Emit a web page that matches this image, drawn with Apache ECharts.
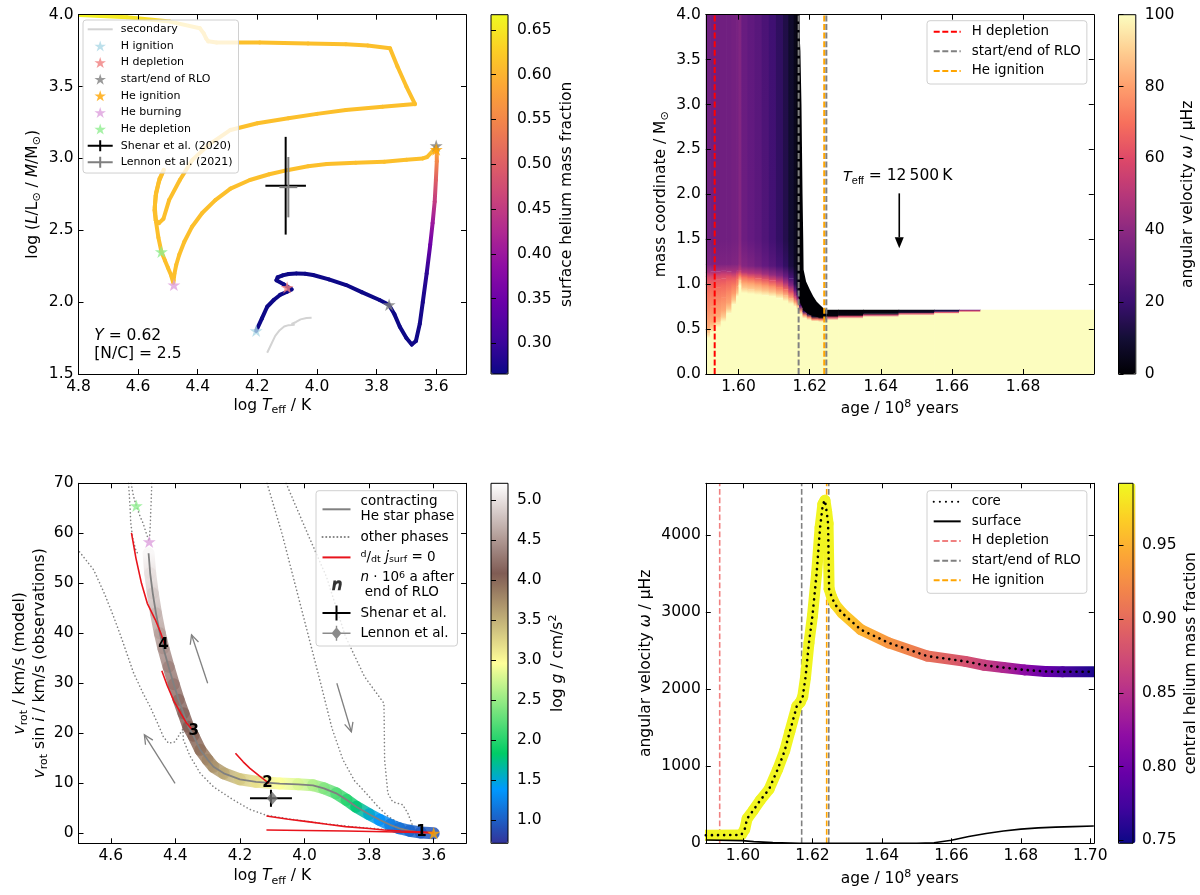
<!DOCTYPE html>
<html>
<head>
<meta charset="utf-8">
<title>primary evolution, rotation and Teff</title>
<script src="https://cdn.jsdelivr.net/npm/echarts@6/dist/echarts.min.js"></script>
<style>
html, body { margin: 0; padding: 0; background: #fff; }
#chart { width: 1200px; height: 895px; }
</style>
</head>
<body>
<div id="chart"></div>
<script>
var F = 'DejaVu Sans';

// ---------- panel 1: HRD of the primary ----------
var hrdLogTeff = [4.204,4.185,4.167,4.145,4.124,4.100,4.085,4.112,4.136,4.132,
  4.115,4.095,4.069,4.040,4.013,3.960,3.902,3.850,3.790,3.759,
  3.740,3.722,3.700,3.682,3.668,3.655,3.645,3.632,3.620,3.612,
  3.605,3.601,3.598,3.598,3.600,3.612,3.630,3.645,3.700,3.774,
  3.870,3.967,4.030,4.096,4.160,4.225,4.290,4.341,4.385,4.419,
  4.445,4.462,4.472,4.478,4.481,4.482,4.490,4.500,4.510,4.522,
  4.532,4.540,4.544,4.540,4.528,4.514,4.530,4.541,4.545,4.541,
  4.530,4.515,4.496,4.460,4.418,4.360,4.290,4.200,4.096,4.000,
  3.903,3.780,3.671,3.700,3.730,3.755,3.830,3.903,4.030,4.192,
  4.337,4.365,4.372,4.380,4.393,4.493,4.638,4.795];
var hrdLogLM = [1.800,1.885,1.968,2.015,2.050,2.072,2.089,2.125,2.152,2.172,
  2.186,2.196,2.200,2.198,2.189,2.158,2.119,2.070,2.015,1.982,
  1.915,1.829,1.750,1.705,1.730,1.850,2.000,2.200,2.400,2.550,
  2.700,2.850,2.980,3.050,3.080,3.050,3.010,3.000,2.990,2.977,
  2.970,2.961,2.945,2.920,2.890,2.850,2.790,2.710,2.620,2.525,
  2.420,2.330,2.260,2.200,2.150,2.135,2.190,2.240,2.290,2.351,
  2.450,2.560,2.660,2.760,2.860,2.920,2.840,2.740,2.640,2.570,
  2.550,2.580,2.710,2.850,2.990,3.100,3.198,3.245,3.279,3.310,
  3.337,3.360,3.378,3.500,3.640,3.766,3.785,3.794,3.800,3.806,
  3.806,3.815,3.835,3.870,3.906,3.952,3.982,3.998];
var hrdYsurf = [0.266,0.266,0.266,0.266,0.266,0.266,0.266,0.266,0.266,0.266,
  0.266,0.266,0.266,0.266,0.266,0.266,0.266,0.266,0.266,0.266,
  0.266,0.266,0.266,0.267,0.268,0.270,0.274,0.290,0.350,0.400,
  0.450,0.500,0.550,0.590,0.610,0.612,0.612,0.612,0.612,0.612,
  0.612,0.612,0.612,0.612,0.612,0.612,0.612,0.612,0.612,0.612,
  0.612,0.612,0.612,0.612,0.612,0.612,0.612,0.612,0.612,0.612,
  0.612,0.612,0.612,0.612,0.612,0.612,0.612,0.612,0.612,0.612,
  0.612,0.612,0.612,0.612,0.612,0.612,0.612,0.612,0.612,0.612,
  0.612,0.612,0.612,0.612,0.612,0.612,0.612,0.612,0.612,0.612,
  0.613,0.614,0.615,0.616,0.618,0.630,0.650,0.662];
var secLogTeff = [4.167,4.155,4.140,4.125,4.110,4.095,4.075,4.085,4.070,4.055,4.035,4.018];
var secLogLM = [1.648,1.700,1.765,1.805,1.830,1.840,1.842,1.848,1.862,1.880,1.890,1.892];
var p1HIgn = [[4.204, 1.801]];
var p1HDep = [[4.100, 2.103]];
var p1RLO = [[3.758, 1.982], [3.600, 3.088]];
var p1HeIgn = [[3.600, 3.062]];
var p1HeBurn = [[4.480, 2.120]];
var p1HeDep = [[4.522, 2.351]];
var p1Shenar = [[4.105, 2.81, 0.068, 0.34]];
var p1Lennon = [[4.096, 2.80, 0.03, 0.21]];
var p1Note = ['{i|Y} = 0.62\n[N/C] = 2.5'];
var p1NotePos = [[4.747, 1.70]];

// ---------- panel 2: angular velocity inside the star ----------
var heatAgeEdges = [1.5908,1.5920,1.5935,1.5950,1.5965,1.5980,1.5993,1.6000,1.6008,1.6025,1.6045,1.6065,
  1.6085,1.6105,1.6125,1.6140,1.6155,1.6163,1.6170,1.6180,1.6192,1.6205,
  1.6225,1.6247,1.6280,1.6350,1.6450,1.6550,1.6620,1.6680,1.6999];
// per age column: [mass coordinate, omega] from centre to surface
var heatProfiles = [
  [[0,100],[0.40,100],[0.45,90],[0.52,82],[0.70,76],[0.90,70],[1.02,64],[1.08,58],[1.13,46],[1.22,36],[1.5,33],[4.0,33]],
  [[0,100],[0.46,100],[0.51,90],[0.58,82],[0.75,76],[0.93,70],[1.03,64],[1.09,57],[1.14,46],[1.22,36],[1.5,33],[4.0,33]],
  [[0,100],[0.52,100],[0.57,90],[0.64,82],[0.80,76],[0.96,69],[1.05,63],[1.10,56],[1.14,46],[1.22,36],[1.5,33],[4.0,33]],
  [[0,100],[0.58,100],[0.63,90],[0.70,82],[0.85,75],[0.99,68],[1.06,62],[1.11,55],[1.15,45],[1.22,36],[1.5,33],[4.0,33]],
  [[0,100],[0.67,100],[0.72,90],[0.79,81],[0.92,74],[1.03,67],[1.09,60],[1.14,47],[1.22,36],[1.5,33],[4.0,33]],
  [[0,100],[0.77,100],[0.82,89],[0.89,80],[0.99,72],[1.07,63],[1.13,48],[1.22,37],[1.5,34],[4.0,34]],
  [[0,100],[0.86,100],[0.90,89],[0.97,79],[1.05,70],[1.11,59],[1.15,46],[1.22,37],[1.5,34],[4.0,35]],
  [[0,100],[0.98,100],[1.04,88],[1.10,70],[1.15,52],[1.22,42],[1.5,38],[4.0,37]],
  [[0,100],[0.90,100],[0.95,90],[1.02,80],[1.08,68],[1.13,50],[1.20,38],[1.5,32],[4.0,31]],
  [[0,100],[0.89,100],[0.94,90],[1.01,80],[1.07,67],[1.12,50],[1.20,36],[1.5,30],[4.0,29]],
  [[0,100],[0.88,100],[0.93,90],[1.00,79],[1.06,65],[1.12,48],[1.20,33],[1.5,28],[4.0,27]],
  [[0,100],[0.87,100],[0.92,89],[0.99,77],[1.05,63],[1.11,45],[1.20,30],[1.5,25],[4.0,24]],
  [[0,100],[0.86,100],[0.91,88],[0.98,75],[1.04,60],[1.10,42],[1.20,27],[1.5,22],[4.0,21]],
  [[0,100],[0.84,100],[0.89,87],[0.96,72],[1.03,55],[1.09,38],[1.20,23],[1.5,18],[4.0,17]],
  [[0,100],[0.81,100],[0.87,85],[0.94,68],[1.01,48],[1.08,32],[1.20,18],[1.5,14],[4.0,13]],
  [[0,100],[0.78,100],[0.84,82],[0.91,62],[0.98,40],[1.06,24],[1.20,12],[1.5,9],[4.0,8]],
  [[0,100],[0.75,100],[0.80,80],[0.86,55],[0.93,30],[1.00,14],[1.20,6],[4.0,4]],
  [[0,100],[0.72,100],[0.77,78],[0.83,45],[0.88,18],[0.95,6],[1.20,2],[4.0,1]],
  [[0,100],[0.66,100],[0.70,80],[0.75,30],[0.80,2],[0.86,0]],
  [[0,100],[0.62,100],[0.655,75],[0.69,20],[0.72,0]],
  [[0,100],[0.60,100],[0.63,75],[0.66,15],[0.69,0]],
  [[0,100],[0.585,100],[0.61,70],[0.635,10],[0.66,0]],
  [[0,100],[0.58,100],[0.605,70],[0.63,5],[0.64,0]],
  [[0,100],[0.60,100],[0.625,60],[0.645,2],[0.712,0]],
  [[0,100],[0.615,100],[0.638,60],[0.655,3],[0.712,0]],
  [[0,100],[0.635,100],[0.655,55],[0.67,4],[0.712,0]],
  [[0,100],[0.65,100],[0.67,60],[0.685,8],[0.712,3]],
  [[0,100],[0.67,100],[0.685,60],[0.695,15],[0.712,10]],
  [[0,100],[0.685,100],[0.70,60],[0.712,30]],
  [[0,100],[0.712,100]]
];
// black (non-rotating) envelope shed during RLO
var wedgeTopAge = [1.6169,1.6174,1.6177,1.6180,1.6182,1.6183,1.6190,1.6201,1.6210,1.6220,1.6230,1.6239,1.6247];
var wedgeTopMass = [4.0,3.6,3.0,2.0,1.5,1.16,1.03,0.935,0.865,0.805,0.765,0.731,0.712];
var wedgeBotAge = [1.6247,1.6239,1.6224,1.6210,1.6201,1.6190,1.6182,1.6176,1.6169];
var wedgeBotMass = [0.632,0.631,0.631,0.645,0.657,0.685,0.712,0.77,0.85];
var hDepAge = 1.5933, rloStartAge = 1.6169, heIgnAge = 1.6241, rloEndAge = 1.6247;
var p2Arrow = [[1.6452, 2.011, 1.6452, 1.399]];
var p2Note = ['{i|T}{sub|eff} = 12\u2009500\u2009K'];
var p2NotePos = [[1.6292, 2.20]];

// ---------- panel 3: surface rotation vs Teff ----------
var contractTeff = [4.483,4.478,4.470,4.460,4.448,4.437,4.421,4.405,4.390,4.375,4.360,4.344,4.323,4.300,4.282,4.250,
  4.200,4.150,4.077,4.020,3.974,3.940,3.902,3.870,3.840,3.800,3.768,3.735,3.706,3.675,3.640,3.600];
var contractVrot = [56.0,52.0,48.0,44.0,40.0,37.0,33.3,29.8,26.7,24.0,21.3,19.5,16.7,14.7,13.3,12.0,
  10.8,10.3,9.95,9.8,9.6,9.0,8.0,6.7,5.3,3.8,2.7,1.7,1.0,0.5,0.15,0.0];
var contractLogg = [5.15,5.0,4.85,4.7,4.57,4.47,4.36,4.27,4.2,4.15,4.1,4.05,3.95,3.82,3.72,3.58,
  3.36,3.18,2.95,2.8,2.62,2.42,2.2,2.02,1.8,1.55,1.36,1.22,1.12,1.05,0.98,0.93];
var otherA = [[4.697,56.3],[4.653,52.7],[4.620,48],[4.591,43.3],[4.565,38.7],[4.529,32.0],[4.500,28],[4.478,25.3],
  [4.455,22],[4.437,19.3],[4.421,18.0],[4.401,18.3],[4.385,20.0],[4.377,20.8],[4.375,18.7],[4.355,15.5],
  [4.323,12],[4.282,9.3],[4.221,6.7],[4.170,4.8],[4.118,3.6],[4.050,2.9],[3.950,2.0],[3.850,1.3],[3.750,0.75],[3.650,0.3],[3.600,0.1]];
var otherB = [[4.545,70],[4.541,66],[4.538,62],[4.532,59],[4.522,56.5],[4.514,55.7]];
var otherC = [[4.537,70],[4.530,67.5],[4.521,65.5],[4.510,63.5],[4.500,62],[4.490,60],[4.481,58.3]];
var otherD = [[4.473,70],[4.476,64.7],[4.478,61.3],[4.481,58.3]];
var otherE = [[4.116,70],[4.070,60],[4.030,50],[3.990,40],[3.950,30],[3.915,21],[3.881,14.7],[3.845,10.5],
  [3.809,8],[3.775,5.5],[3.740,3.3],[3.700,1.8],[3.660,0.7]];
var otherF = [[4.057,70],[3.991,60],[3.932,51.3],[3.873,39.3],[3.814,31.3],[3.754,26],[3.752,14.7],[3.742,8],
  [3.727,6.3],[3.696,5.7],[3.680,4],[3.665,1.5],[3.650,0.3]];
var jconst1 = [[4.536,60.1],[4.522,55],[4.505,50],[4.487,46],[4.462,42.7],[4.445,40],[4.433,37.7]];
var jconst2 = [[4.442,32.5],[4.425,29.5],[4.405,26.5],[4.383,24.0],[4.365,22.0],[4.349,20.8]];
var jconst3 = [[4.214,16],[4.190,14.3],[4.169,13],[4.140,11.5],[4.110,10]];
var jconst4 = [[4.118,3.47],[4.050,2.8],[3.991,2.33],[3.930,1.8],[3.873,1.33],[3.800,0.95],[3.754,0.67],[3.700,0.45],[3.650,0.3],[3.600,0.15]];
var jconst5 = [[4.118,0.67],[4.000,0.55],[3.873,0.45],[3.750,0.3],[3.650,0.15],[3.600,0.05]];
var p3Arrows = [[4.300,30,4.350,39.7],[4.401,10,4.496,19.7],[3.900,30,3.855,20.3]];
var p3Myr = ['4','3','2','1'];
var p3MyrPos = [[4.437,37.7],[4.343,20.5],[4.115,10.1],[3.638,0.3]];
var p3HeDep = [[4.521,65.5]];
var p3HeBurn = [[4.481,58.3]];
var p3HeIgn = [[3.600,0.0]];
var p3Shenar = [[4.104,7.0,0.065,1.7]];
var p3Lennon = [[4.100,7.0]];

// ---------- panel 4: core and surface angular velocity ----------
var coreAge = [1.5893,1.5995,1.6005,1.6012,1.6030,1.6050,1.6075,1.6100,1.6120,1.6135,1.6155,1.6165,1.6172,1.6180,1.6190,
  1.6200,1.6212,1.6222,1.6230,1.6236,1.6241,1.6245,1.6248,1.6255,1.6265,1.6285,1.6340,1.6420,1.6530,1.6640,
  1.6695,1.6750,1.6810,1.6870,1.6920,1.7010];
var coreOmega = [105,108,180,320,430,560,700,960,1200,1450,1780,1830,1900,2150,2600,2950,3500,4100,4400,4450,
  4300,4150,3300,3200,3100,2990,2770,2600,2430,2360,2310,2280,2250,2230,2225,2225];
var coreYc = [0.99,0.99,0.99,0.99,0.99,0.99,0.99,0.99,0.99,0.99,0.99,0.99,0.99,0.99,0.99,0.99,0.99,0.99,0.99,0.99,
  0.99,0.99,0.988,0.985,0.98,0.968,0.95,0.93,0.905,0.88,0.865,0.845,0.82,0.797,0.78,0.755];
var surfAge = [1.5893,1.5998,1.6031,1.6086,1.6163,1.6500,1.6550,1.6600,1.6650,1.6700,1.6750,1.6800,1.6850,1.6900,1.6950,1.7010];
var surfOmega = [43,35,22,9,0,0,8,40,88,128,160,184,200,210,217,224];

// axis ranges and ticks
var p1X = [3.5, 4.8], p1Y = [1.5, 4.0];
var p2X = [1.5908, 1.6999], p2Y = [0, 4.0];
var p3X = [3.5, 4.7], p3Y = [-2, 70];
var p4X = [1.5893, 1.701], p4Y = [0, 4671];
var p1XTicks = [4.8,4.6,4.4,4.2,4.0,3.8,3.6], p1YTicks = [1.5,2.0,2.5,3.0,3.5,4.0];
var p2XTicks = [1.60,1.62,1.64,1.66,1.68], p2YTicks = [0,0.5,1.0,1.5,2.0,2.5,3.0,3.5,4.0];
var p3XTicks = [4.6,4.4,4.2,4.0,3.8,3.6], p3YTicks = [0,10,20,30,40,50,60,70];
var p4XTicks = [1.60,1.62,1.64,1.66,1.68,1.70], p4YTicks = [0,1000,2000,3000,4000];
var cb1 = [0.2657, 0.667], cb1Ticks = [0.30,0.35,0.40,0.45,0.50,0.55,0.60,0.65];
var cb2 = [0, 100], cb2Ticks = [0,20,40,60,80,100];
var cb3 = [0.71, 5.21], cb3Ticks = [1.0,1.5,2.0,2.5,3.0,3.5,4.0,4.5,5.0];
var cb4 = [0.748, 0.992], cb4Ticks = [0.75,0.80,0.85,0.90,0.95];

var PLASMA = ['#0d0887','#41049d','#6a00a8','#8f0da4','#b12a90','#cc4778','#e16462','#f2844b','#fca636','#fcce25','#f0f921'];
var MAGMA = ['#000004','#140e36','#3b0f70','#641a80','#8c2981','#b73779','#de4968','#f7705c','#fe9f6d','#fecf92','#fcfdbf'];
var TERRAIN = ['#333399','#2255bb','#1177dd','#0099ff','#00b3b3','#00cc66','#33d670','#66e07a','#99eb85','#ccf58f','#ffff99',
  '#e6de8b','#ccbe7d','#b39d70','#997c62','#805c54','#997c76','#b39d98','#ccbebb','#e6dedd','#ffffff'];

// ---------- helpers ----------
function zip(xs, ys) { return xs.map(function (x, i) { return [x, ys[i]]; }); }
function segItems(xs, ys, cs) {
  var out = [];
  for (var i = 0; i < xs.length; i++) {
    var last = i === xs.length - 1;
    out.push([xs[i], ys[i], last ? xs[i] : xs[i + 1], last ? ys[i] : ys[i + 1], cs[i], last ? 1 : 0]);
  }
  return out;
}
function heatItems(edges, profiles) {
  var out = [];
  profiles.forEach(function (prof, c) {
    prof.forEach(function (p, k) {
      var last = k === prof.length - 1;
      out.push([edges[c], edges[c + 1], p[0], last ? p[0] : prof[k + 1][0], p[1], last ? 1 : 0]);
    });
  });
  return out;
}

var axisRich = {
  n: { fontFamily: F, fontSize: 15.5, color: '#000', lineHeight: 20 },
  i: { fontFamily: F, fontSize: 15.5, fontStyle: 'italic', color: '#000', lineHeight: 20 },
  sub: { fontFamily: F, fontSize: 11, color: '#000', verticalAlign: 'bottom', lineHeight: 15 },
  sup: { fontFamily: F, fontSize: 11, color: '#000', verticalAlign: 'top', lineHeight: 15 }
};

var grids = [
  { left: 78.5, top: 14.7, width: 387.5, height: 359.3 },
  { left: 705.8, top: 14.7, width: 388, height: 359.3 },
  { left: 78.5, top: 483.3, width: 387.5, height: 360 },
  { left: 705.8, top: 483.3, width: 388, height: 360 },
  { left: 491, top: 14.7, width: 17, height: 359.3, show: true, borderColor: '#000', borderWidth: 1, z: 10 },
  { left: 1118.5, top: 14.7, width: 17.3, height: 359.3, show: true, borderColor: '#000', borderWidth: 1, z: 10 },
  { left: 491, top: 483.3, width: 17, height: 360, show: true, borderColor: '#000', borderWidth: 1, z: 10 },
  { left: 1118.5, top: 483.3, width: 17.3, height: 360, show: true, borderColor: '#000', borderWidth: 1, z: 10 }
];

var xAxes = [], yAxes = [];
function frameAxis(gi, pos, range, inverse, ticks, fmt, main, name, gap) {
  return {
    gridIndex: gi, type: 'value', position: pos, min: range[0], max: range[1], inverse: inverse,
    z: 10, silent: true,
    axisLine: { show: true, onZero: false, lineStyle: { color: '#000', width: 1 } },
    axisTick: { show: true, inside: true, length: 5, customValues: ticks, lineStyle: { color: '#000', width: 1 } },
    axisLabel: { show: main, customValues: ticks, formatter: fmt, margin: 5, color: '#000', fontFamily: F, fontSize: 15.5 },
    splitLine: { show: false },
    name: main ? name : '', nameLocation: 'middle', nameGap: gap,
    nameTextStyle: { fontFamily: F, fontSize: 15.5, color: '#000', rich: axisRich }
  };
}
function panelAxes(gi, xr, yr, inv, xt, yt, xf, yf, xName, yName, xGap, yGap) {
  xAxes.push(frameAxis(gi, 'bottom', xr, inv, xt, xf, true, xName, xGap));
  xAxes.push(frameAxis(gi, 'top', xr, inv, xt, xf, false, '', 0));
  yAxes.push(frameAxis(gi, 'left', yr, false, yt, yf, true, yName, yGap));
  yAxes.push(frameAxis(gi, 'right', yr, false, yt, yf, false, '', 0));
}
function f1(v) { return v.toFixed(1); }
function f2(v) { return v.toFixed(2); }
function f0(v) { return String(Math.round(v)); }
var teffName = '{n|log }{i|T}{sub|eff}{n| / K}';
var ageName = '{n|age / 10}{sup|8}{n| years}';
panelAxes(0, p1X, p1Y, true, p1XTicks, p1YTicks, f1, f1, teffName,
  '{n|log (}{i|L}{n|/L}{sub|\u2299}{n| / }{i|M}{n|/M}{sub|\u2299}{n|)}', 22, 36);
panelAxes(1, p2X, p2Y, false, p2XTicks, p2YTicks, f2, f1, ageName,
  '{n|mass coordinate / M}{sub|\u2299}', 25, 35);
panelAxes(2, p3X, p3Y, true, p3XTicks, p3YTicks, f1, f0, teffName,
  '{i|v}{sub|rot}{n| / km/s (model)}\n{i|v}{sub|rot}{n| sin }{i|i}{n| / km/s (observations)}', 23, 28);
panelAxes(3, p4X, p4Y, false, p4XTicks, p4YTicks, f2, f0, ageName,
  '{n|angular velocity }{i|\u03c9}{n| / \u03bcHz}', 25.5, 50);

function cbarAxes(gi, range, ticks, fmt, name, gap) {
  xAxes.push({ gridIndex: gi, type: 'value', show: false, min: 0, max: 1 });
  yAxes.push({
    gridIndex: gi, type: 'value', position: 'right', min: range[0], max: range[1], z: 11, silent: true,
    axisLine: { show: false },
    axisTick: { show: true, inside: false, length: 5, customValues: ticks, lineStyle: { color: '#000' } },
    axisLabel: { show: true, customValues: ticks, formatter: fmt, margin: 9, color: '#000', fontFamily: F, fontSize: 15.5 },
    splitLine: { show: false },
    name: name, nameLocation: 'middle', nameGap: gap,
    nameTextStyle: { fontFamily: F, fontSize: 15.5, color: '#000', rich: axisRich }
  });
}
cbarAxes(4, cb1, cb1Ticks, f2, '{n|surface helium mass fraction}', 49);
cbarAxes(5, cb2, cb2Ticks, f0, '{n|angular velocity }{i|\u03c9}{n| / \u03bcHz}', 42.5);
cbarAxes(6, cb3, cb3Ticks, f1, '{n|log }{i|g}{n| / cm/s}{sup|2}', 39.5);
cbarAxes(7, cb4, cb4Ticks, f2, '{n|central helium mass fraction}', 48);

// ---------- series ----------
var series = [];
var AX = [[0, 0], [2, 2], [4, 4], [6, 6]];
function add(p, s) {
  s.xAxisIndex = AX[p][0]; s.yAxisIndex = AX[p][1];
  s.silent = true; s.emphasis = { disabled: true };
  series.push(s);
  return series.length - 1;
}
function line(p, name, data, color, width, dash, z, cap) {
  return add(p, {
    type: 'line', name: name, data: data, symbol: 'none', clip: true, z: z || 3,
    lineStyle: { color: color, width: width, type: dash || 'solid', cap: cap || 'butt' },
    itemStyle: { color: color }
  });
}
var STAR = 'path://M50,0L61.23,34.55L97.55,34.55L68.16,55.9L79.39,90.45L50,69.1L20.61,90.45L31.84,55.9L2.45,34.55L38.77,34.55Z';
function stars(p, name, data, color) {
  return add(p, {
    type: 'scatter', name: name, data: data, symbol: STAR, symbolSize: 13, symbolKeepAspect: true,
    itemStyle: { color: color }, z: 6
  });
}
function segSeries(p, data, width, opacity, z) {
  return add(p, {
    type: 'custom', data: data, encode: { x: [0, 2], y: [1, 3] }, clip: true, z: z,
    renderItem: function (params, api) {
      if (api.value(5) === 1) return null;
      var a = api.coord([api.value(0), api.value(1)]);
      var b = api.coord([api.value(2), api.value(3)]);
      var c0 = api.visual('color');
      var c1 = api.visual('color', params.dataIndexInside + 1);
      return {
        type: 'line', shape: { x1: a[0], y1: a[1], x2: b[0], y2: b[1] },
        style: {
          stroke: new echarts.graphic.LinearGradient(a[0], a[1], b[0], b[1],
            [{ offset: 0, color: c0 }, { offset: 1, color: c1 }], true),
          lineWidth: width, lineCap: 'round', opacity: opacity
        }
      };
    }
  });
}
function errSeries(p, name, data, color, lw, z) {
  return add(p, {
    type: 'custom', name: name, data: data, encode: { x: 0, y: 1 }, z: z, itemStyle: { color: color },
    renderItem: function (params, api) {
      var x = api.value(0), y = api.value(1), dx = api.value(2), dy = api.value(3);
      var a = api.coord([x - dx, y]), b = api.coord([x + dx, y]);
      var c = api.coord([x, y - dy]), d = api.coord([x, y + dy]);
      return { type: 'group', children: [
        { type: 'line', shape: { x1: a[0], y1: a[1], x2: b[0], y2: b[1] }, style: { stroke: color, lineWidth: lw } },
        { type: 'line', shape: { x1: c[0], y1: c[1], x2: d[0], y2: d[1] }, style: { stroke: color, lineWidth: lw } }
      ] };
    }
  });
}
function textSeries(p, pos, texts, style, z) {
  return add(p, {
    type: 'custom', data: pos, encode: { x: 0, y: 1 }, z: z || 8,
    renderItem: function (params, api) {
      var q = api.coord([api.value(0), api.value(1)]);
      var st = { text: texts[params.dataIndex] };
      for (var k in style) st[k] = style[k];
      return { type: 'text', x: q[0], y: q[1], style: st };
    }
  });
}

// panel 1
var sP1Track = segSeries(0, segItems(hrdLogTeff, hrdLogLM, hrdYsurf), 4, 1, 2);
line(0, 'p1_sec', zip(secLogTeff, secLogLM), '#d3d3d3', 2, 'solid', 3);
stars(0, 'p1_Hign', p1HIgn, '#add8e6');
stars(0, 'p1_Hdep', p1HDep, '#f08080');
stars(0, 'p1_RLO', p1RLO, '#808080');
stars(0, 'p1_HeIgn', p1HeIgn, '#ffa500');
stars(0, 'p1_HeBurn', p1HeBurn, '#dda0dd');
stars(0, 'p1_HeDep', p1HeDep, '#90ee90');
errSeries(0, 'p1_Shenar', p1Shenar, '#000', 2, 7);
errSeries(0, 'p1_Lennon', p1Lennon, '#7f7f7f', 2, 7);
textSeries(0, p1NotePos, p1Note, {
  fontFamily: F, fontSize: 15.5, fill: '#000', align: 'left', verticalAlign: 'middle', lineHeight: 18,
  rich: { i: { fontStyle: 'italic', fontFamily: F, fontSize: 15.5, lineHeight: 18 } }
});

// panel 2
var sHeat = add(1, {
  type: 'custom', data: heatItems(heatAgeEdges, heatProfiles), encode: { x: [0, 1], y: [2, 3] }, clip: true, z: 1,
  renderItem: function (params, api) {
    if (api.value(5) === 1) return null;
    var a = api.coord([api.value(0), api.value(2)]);
    var b = api.coord([api.value(1), api.value(3)]);
    var c0 = api.visual('color');
    var c1 = api.visual('color', params.dataIndexInside + 1);
    return {
      type: 'rect',
      shape: { x: a[0], y: b[1] - 0.4, width: b[0] - a[0] + 0.7, height: a[1] - b[1] + 0.4 },
      style: { fill: new echarts.graphic.LinearGradient(0, 1, 0, 0,
        [{ offset: 0, color: c0 }, { offset: 1, color: c1 }]) }
    };
  }
});
var sWedge = add(1, {
  type: 'custom', data: [[rloStartAge, rloStartAge, 0, 0, 0, 0]], encode: { x: 0, y: 2 }, clip: true, z: 2,
  renderItem: function (params, api) {
    var pts = [];
    for (var i = 0; i < wedgeTopAge.length; i++) pts.push(api.coord([wedgeTopAge[i], wedgeTopMass[i]]));
    for (var j = 0; j < wedgeBotAge.length; j++) pts.push(api.coord([wedgeBotAge[j], wedgeBotMass[j]]));
    return { type: 'polygon', shape: { points: pts }, style: { fill: api.visual('color') } };
  }
});
line(1, 'p2_Hdep', [[hDepAge, p2Y[0]], [hDepAge, p2Y[1]]], '#ff0000', 2, [6, 2.6], 4);
line(1, 'p2_RLO', [[rloStartAge, p2Y[0]], [rloStartAge, p2Y[1]]], '#808080', 2, [6, 2.6], 4);
line(1, 'p2_HeIgn', [[heIgnAge, p2Y[0]], [heIgnAge, p2Y[1]]], '#ffa500', 2, [6, 2.6], 4);
line(1, 'p2_RLOend', [[rloEndAge, p2Y[0]], [rloEndAge, p2Y[1]]], '#808080', 2, [6, 2.6], 4);
add(1, {
  type: 'custom', data: p2Arrow, encode: { x: [0, 2], y: [1, 3] }, z: 8,
  renderItem: function (params, api) {
    var a = api.coord([api.value(0), api.value(1)]);
    var b = api.coord([api.value(2), api.value(3)]);
    var ang = Math.atan2(b[1] - a[1], b[0] - a[0]);
    var hl = 11, hw = 4.5;
    var base = [b[0] - hl * Math.cos(ang), b[1] - hl * Math.sin(ang)];
    var nx = -Math.sin(ang) * hw, ny = Math.cos(ang) * hw;
    return { type: 'group', children: [
      { type: 'line', shape: { x1: a[0], y1: a[1], x2: base[0], y2: base[1] }, style: { stroke: '#000', lineWidth: 1.6 } },
      { type: 'polygon', shape: { points: [b, [base[0] + nx, base[1] + ny], [base[0] - nx, base[1] - ny]] }, style: { fill: '#000' } }
    ] };
  }
});
textSeries(1, p2NotePos, p2Note, {
  fontFamily: F, fontSize: 15.5, fill: '#000', align: 'left', verticalAlign: 'middle', lineHeight: 20,
  rich: { i: { fontStyle: 'italic', fontSize: 15.5, lineHeight: 20 }, sub: { fontSize: 11, verticalAlign: 'bottom', lineHeight: 14 } }
});

// panel 3
var dots3 = [0.1, 3.6];
line(2, 'p3_other', otherA, '#808080', 1.6, dots3, 2, 'round');
line(2, 'p3_otherB', otherB, '#808080', 1.6, dots3, 2, 'round');
line(2, 'p3_otherC', otherC, '#808080', 1.6, dots3, 2, 'round');
line(2, 'p3_otherD', otherD, '#808080', 1.6, dots3, 2, 'round');
line(2, 'p3_otherE', otherE, '#808080', 1.6, dots3, 2, 'round');
line(2, 'p3_otherF', otherF, '#808080', 1.6, dots3, 2, 'round');
var sP3Band = segSeries(2, segItems(contractTeff, contractVrot, contractLogg), 12, 0.85, 3);
line(2, 'p3_contract', zip(contractTeff, contractVrot), '#808080', 1.8, 'solid', 4);
line(2, 'p3_red', jconst1, '#e8141c', 1.6, 'solid', 5);
line(2, 'p3_red2', jconst2, '#e8141c', 1.6, 'solid', 5);
line(2, 'p3_red3', jconst3, '#e8141c', 1.6, 'solid', 5);
line(2, 'p3_red4', jconst4, '#e8141c', 1.6, 'solid', 5);
line(2, 'p3_red5', jconst5, '#e8141c', 1.6, 'solid', 5);
add(2, {
  type: 'custom', data: p3Arrows, encode: { x: [0, 2], y: [1, 3] }, z: 5,
  renderItem: function (params, api) {
    var a = api.coord([api.value(0), api.value(1)]);
    var b = api.coord([api.value(2), api.value(3)]);
    var ang = Math.atan2(b[1] - a[1], b[0] - a[0]);
    var L = 10, w = Math.PI / 7;
    var h1 = [b[0] - L * Math.cos(ang - w), b[1] - L * Math.sin(ang - w)];
    var h2 = [b[0] - L * Math.cos(ang + w), b[1] - L * Math.sin(ang + w)];
    return { type: 'group', children: [
      { type: 'line', shape: { x1: a[0], y1: a[1], x2: b[0], y2: b[1] }, style: { stroke: '#808080', lineWidth: 1.3 } },
      { type: 'polyline', shape: { points: [h1, b, h2] }, style: { stroke: '#808080', lineWidth: 1.3, fill: null } }
    ] };
  }
});
errSeries(2, 'p3_Shenar', p3Shenar, '#000', 2, 7);
add(2, { type: 'scatter', name: 'p3_Lennon', data: p3Lennon, symbol: 'diamond', symbolSize: [11, 13], itemStyle: { color: '#6e6e6e' }, z: 8 });
add(2, { type: 'scatter', name: 'p3_n', data: [], itemStyle: { color: '#000' } });
stars(2, 'p3_starHeDep', p3HeDep, '#90ee90');
stars(2, 'p3_starHeBurn', p3HeBurn, '#dda0dd');
stars(2, 'p3_starHeIgn', p3HeIgn, '#ffa500');
textSeries(2, p3MyrPos, p3Myr, {
  fontFamily: F, fontSize: 15, fontWeight: 'bold', fill: '#000', align: 'center', verticalAlign: 'middle'
}, 9);

// panel 4
line(3, 'p4_Hdep', [[hDepAge, p4Y[0]], [hDepAge, p4Y[1]]], '#f08080', 1.6, [5.9, 2.6], 2);
line(3, 'p4_RLO', [[rloStartAge, p4Y[0]], [rloStartAge, p4Y[1]]], '#808080', 1.6, [5.9, 2.6], 2);
line(3, 'p4_HeIgn', [[heIgnAge, p4Y[0]], [heIgnAge, p4Y[1]]], '#ffa500', 1.6, [5.9, 2.6], 2);
line(3, 'p4_RLOend', [[rloEndAge, p4Y[0]], [rloEndAge, p4Y[1]]], '#808080', 1.6, [5.9, 2.6], 2);
var sP4Band = segSeries(3, segItems(coreAge, coreOmega, coreYc), 11, 1, 3);
line(3, 'p4_core', zip(coreAge, coreOmega), '#000', 2.6, [0.1, 6], 5, 'round');
line(3, 'p4_surf', zip(surfAge, surfOmega), '#000', 1.6, 'solid', 5);

// ---------- legends ----------
var legendLabels = {
  p1_sec: 'secondary', p1_Hign: 'H ignition', p1_Hdep: 'H depletion', p1_RLO: 'start/end of RLO',
  p1_HeIgn: 'He ignition', p1_HeBurn: 'He burning', p1_HeDep: 'He depletion',
  p1_Shenar: 'Shenar et al. (2020)', p1_Lennon: 'Lennon et al. (2021)',
  p2_Hdep: 'H depletion', p2_RLO: 'start/end of RLO', p2_HeIgn: 'He ignition',
  p3_contract: 'contracting\nHe star phase', p3_other: 'other phases',
  p3_red: '{sup|d}/{sub|dt} {i|j}{sub|surf} = 0',
  p3_n: '{i|n} \u00b7 10{sup|6} a after\n end of RLO',
  p3_Shenar: 'Shenar et al.', p3_Lennon: 'Lennon et al.',
  p4_core: 'core', p4_surf: 'surface', p4_Hdep: 'H depletion', p4_RLO: 'start/end of RLO', p4_HeIgn: 'He ignition'
};
function legendFmt(name) { return legendLabels[name]; }
// line entries: hide the marker ECharts puts in the middle of a line icon
function lineEntry(name) { return { name: name, itemStyle: { opacity: 0 } }; }
var CROSS1 = 'path://M0,4.5L25,4.5L25,6.5L0,6.5Z M11.5,0L13.5,0L13.5,11L11.5,11Z';
var CROSS3 = 'path://M0,6.5L28,6.5L28,8.5L0,8.5Z M13,0L15,0L15,15L13,15Z';
var DIAMOND3 = 'path://M0,6.8L28,6.8L28,8.2L0,8.2Z M13.3,0L14.7,0L14.7,15L13.3,15Z M14,1.5L19,7.5L14,13.5L9,7.5Z';
var NGLYPH = 'path://M0,0L0.01,0.01M28,15L27.99,14.99 M9.5,12.5L12.3,12.5L13.4,7.2Q14.3,5.6 15.6,5.6Q16.6,5.6 16.3,7.0L15.2,12.5L18.0,12.5L19.2,6.8Q19.7,2.6 16.4,2.6Q14.6,2.6 13.3,4.0L13.6,2.8L11.0,2.8Z';
var legendBox = {
  orient: 'vertical', selectedMode: false, z: 20,
  backgroundColor: 'rgba(255,255,255,0.8)', borderColor: '#d0d0d0', borderWidth: 1, borderRadius: 3,
  formatter: legendFmt
};
function mkLegend(extra) { var o = {}; for (var k in legendBox) o[k] = legendBox[k]; for (var j in extra) o[j] = extra[j]; return o; }
var legendRich = {
  n: { fontFamily: F, fontSize: 13.5, lineHeight: 15, color: '#000' },
  i: { fontFamily: F, fontSize: 13.5, fontStyle: 'italic', lineHeight: 15, color: '#000' },
  sup: { fontFamily: F, fontSize: 9.5, verticalAlign: 'top', lineHeight: 11, color: '#000' },
  sub: { fontFamily: F, fontSize: 9.5, verticalAlign: 'bottom', lineHeight: 11, color: '#000' }
};
var legends = [
  mkLegend({
    left: 83, top: 20, padding: [2.3, 6, 3.7, 3.7], itemGap: 2.63, itemWidth: 25, itemHeight: 11,
    textStyle: { fontFamily: F, fontSize: 11, color: '#000', lineHeight: 14, padding: [0, 0, 0, 3] },
    data: [lineEntry('p1_sec'), 'p1_Hign', 'p1_Hdep', 'p1_RLO', 'p1_HeIgn', 'p1_HeBurn', 'p1_HeDep',
      { name: 'p1_Shenar', icon: CROSS1 }, { name: 'p1_Lennon', icon: CROSS1 }]
  }),
  mkLegend({
    left: 927, top: 20.7, padding: [3.5, 6, 5.5, 5.7], itemGap: 4.65, itemWidth: 27, itemHeight: 15,
    textStyle: { fontFamily: F, fontSize: 13.4, color: '#000', lineHeight: 15, padding: [0, 0, 0, 6] },
    data: [lineEntry('p2_Hdep'), lineEntry('p2_RLO'), lineEntry('p2_HeIgn')]
  }),
  mkLegend({
    left: 316, top: 490.7, padding: [3.6, 3, 5.2, 5.5], itemGap: 5.3, itemWidth: 28, itemHeight: 15,
    textStyle: { fontFamily: F, fontSize: 13.5, color: '#000', lineHeight: 15, padding: [0, 0, 0, 5], rich: legendRich },
    data: [lineEntry('p3_contract'), lineEntry('p3_other'), lineEntry('p3_red'), { name: 'p3_n', icon: NGLYPH },
      { name: 'p3_Shenar', icon: CROSS3 }, { name: 'p3_Lennon', icon: DIAMOND3 }]
  }),
  mkLegend({
    left: 927, top: 490.7, padding: [3.5, 6, 5.5, 5.7], itemGap: 4.65, itemWidth: 27, itemHeight: 15,
    textStyle: { fontFamily: F, fontSize: 13.4, color: '#000', lineHeight: 15, padding: [0, 0, 0, 6] },
    data: [lineEntry('p4_core'), lineEntry('p4_surf'), lineEntry('p4_Hdep'), lineEntry('p4_RLO'), lineEntry('p4_HeIgn')]
  })
];

// ---------- colour bars ----------
function cbar(range, colors, dim, idx, left, top, h) {
  return {
    type: 'continuous', min: range[0], max: range[1], dimension: dim, seriesIndex: idx,
    inRange: { color: colors }, calculable: false, hoverLink: false, realtime: false,
    left: left, top: top, itemWidth: 17, itemHeight: h, padding: 0, orient: 'vertical', z: 4
  };
}
var visualMaps = [
  cbar(cb1, PLASMA, 4, [sP1Track], 491, 14.7, 359.3),
  cbar(cb2, MAGMA, 4, [sHeat, sWedge], 1118.5, 14.7, 359.3),
  cbar(cb3, TERRAIN, 4, [sP3Band], 491, 483.3, 360),
  cbar(cb4, PLASMA, 4, [sP4Band], 1118.5, 483.3, 360)
];

var chart = echarts.init(document.getElementById('chart'), null, { renderer: 'canvas' });
chart.setOption({
  animation: false,
  backgroundColor: '#fff',
  textStyle: { fontFamily: F },
  grid: grids,
  xAxis: xAxes,
  yAxis: yAxes,
  legend: legends,
  visualMap: visualMaps,
  series: series
});
</script>
</body>
</html>
